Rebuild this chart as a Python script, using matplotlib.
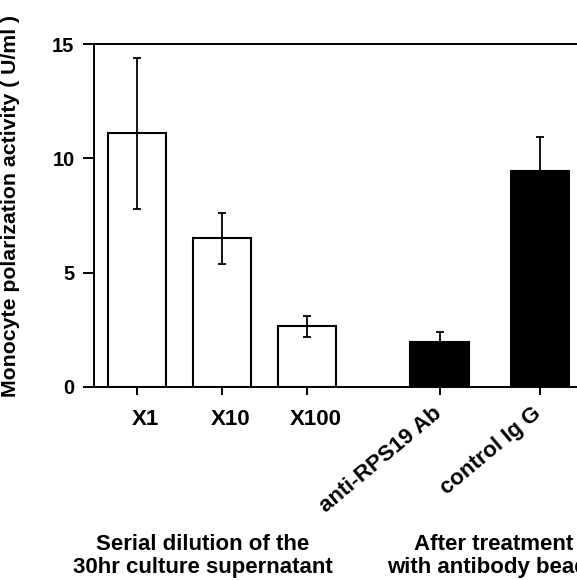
import matplotlib
matplotlib.use("Agg")
import matplotlib.pyplot as plt

plt.rcParams['font.family'] = ['Liberation Sans', 'DejaVu Sans']
plt.rcParams['font.weight'] = 'bold'

# bar data
labels = ["X1", "X10", "X100", "anti-RPS19 Ab", "control Ig G"]
means = [11.1, 6.5, 2.65, 1.95, 9.45]
errors = [3.3, 1.1, 0.45, 0.45, 1.5]
fills = ["white", "white", "white", "black", "black"]
positions = [0, 1, 2, 3.56, 4.74]
yticks = [0, 5, 10, 15]

x_lo, x_hi = -0.506, 5.7
px_per_unit = 85.0

fig = plt.figure(figsize=(5.77, 5.80), dpi=100)
# axes run past the right edge of the figure
ax = fig.add_axes([94 / 577, 1 - 387 / 580,
                   (x_hi - x_lo) * px_per_unit / 577, (387 - 44) / 580])

ax.bar(positions, means, width=0.69, color=fills, edgecolor="black",
       linewidth=1.5, zorder=2)
ax.errorbar(positions, means, yerr=errors, fmt="none", ecolor="black",
            elinewidth=1.3, capsize=3, capthick=1.3, zorder=3)

ax.set_xlim(x_lo, x_hi)
ax.set_ylim(0, 15)
ax.set_yticks(yticks)
ax.set_xticks(positions)
ax.set_xticklabels([])
ax.tick_params(axis="y", direction="out", length=8, width=1.4, labelsize=14.5, pad=6)
ax.tick_params(axis="x", direction="out", length=6, width=1.4)
for lab in ax.get_yticklabels():
    lab.set_fontweight("bold")
for s in ax.spines.values():
    s.set_linewidth(1.4)

# straight labels under the dilution bars
for x, lab in zip(positions[:3], labels[:3]):
    ax.text(x + 0.1, -1.44, lab, ha="center", va="center", fontsize=16,
            fontweight="bold", clip_on=False)

# slanted labels under the antibody bars
for x, lab in zip(positions[3:], labels[3:]):
    ax.text(x - 0.09, -0.7, lab, ha="right", va="top", rotation=40,
            rotation_mode="anchor", fontsize=16, fontweight="bold", clip_on=False)

fig.text(11 / 577, 1 - 206 / 580, "Monocyte polarization activity ( U/ml )",
         rotation=90, ha="center", va="center", fontsize=15.3, fontweight="bold")

fig.text(203 / 577, 1 - 556 / 580, "Serial dilution of the\n30hr culture supernatant",
         ha="center", va="center", fontsize=16, fontweight="bold", linespacing=1.1)
fig.text(494 / 577, 1 - 556 / 580, "After treatment\nwith antibody beads",
         ha="center", va="center", fontsize=16, fontweight="bold", linespacing=1.1)

fig.savefig("out.png", dpi=100)
